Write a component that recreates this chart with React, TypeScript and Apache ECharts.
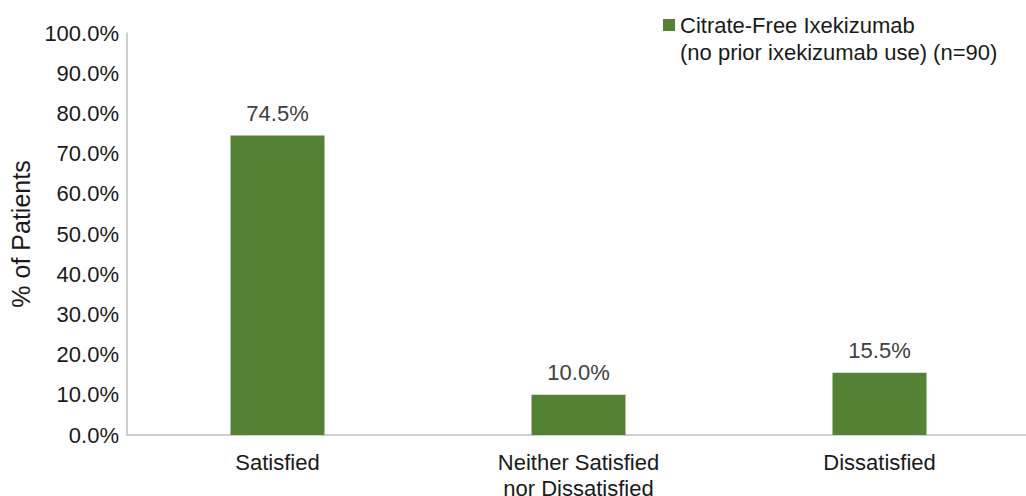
import React, { useEffect, useRef } from "react";
import * as echarts from "echarts";

// Patient satisfaction with citrate-free ixekizumab
const categories = ["Satisfied", "Neither Satisfied\nnor Dissatisfied", "Dissatisfied"];
const percentPatients = [74.5, 10.0, 15.5];
const seriesName = "Citrate-Free Ixekizumab";
const seriesSubtitle = "(no prior ixekizumab use) (n=90)";
const yTicks = { min: 0, max: 100, interval: 10 };

const FONT = "'Liberation Sans', Arial, sans-serif";
const GREEN = "#548235";

export default function App() {
  const ref = useRef<HTMLDivElement>(null);

  useEffect(() => {
    if (!ref.current) return;
    const chart = echarts.init(ref.current, null, { renderer: "svg" });
    chart.setOption({
      animation: false,
      backgroundColor: "#ffffff",
      textStyle: { fontFamily: FONT },
      grid: {
        left: 127,
        top: 33,
        width: 903,
        height: 402,
        containLabel: false,
        outerBoundsMode: "none",
      },
      legend: {
        show: true,
        left: 658,
        top: 9,
        itemWidth: 12,
        itemHeight: 12,
        itemGap: 5,
        icon: "rect",
        data: [seriesName],
        textStyle: { fontFamily: FONT, fontSize: 22, color: "#1a1a1a" },
      },
      graphic: [
        {
          type: "text",
          left: 680,
          top: 41,
          style: {
            text: seriesSubtitle,
            font: `22px ${FONT}`,
            fill: "#1a1a1a",
          },
        },
      ],
      xAxis: {
        type: "category",
        data: categories,
        axisLine: { show: true, lineStyle: { color: "#bfbfbf", width: 1.5 } },
        axisTick: { show: false },
        axisLabel: {
          fontFamily: FONT,
          fontSize: 22,
          color: "#1a1a1a",
          margin: 14,
          lineHeight: 26,
          interval: 0,
        },
      },
      yAxis: {
        type: "value",
        min: yTicks.min,
        max: yTicks.max,
        interval: yTicks.interval,
        name: "% of Patients",
        nameLocation: "middle",
        nameGap: 89,
        nameTextStyle: { fontFamily: FONT, fontSize: 25, color: "#1a1a1a" },
        axisLine: { show: true, lineStyle: { color: "#bfbfbf", width: 1.5 } },
        axisTick: { show: false },
        splitLine: { show: false },
        axisLabel: {
          fontFamily: FONT,
          fontSize: 22,
          color: "#1a1a1a",
          margin: 8,
          formatter: (v: number) => v.toFixed(1) + "%",
        },
      },
      series: [
        {
          name: seriesName,
          type: "bar",
          data: percentPatients,
          barWidth: 94,
          itemStyle: { color: GREEN },
          label: {
            show: true,
            position: "top",
            distance: 11,
            fontFamily: FONT,
            fontSize: 22,
            color: "#404040",
            formatter: (p: any) => Number(p.value).toFixed(1) + "%",
          },
        },
      ],
    });
    return () => chart.dispose();
  }, []);

  return (
    <div
      ref={ref}
      style={{ position: "fixed", left: 0, top: 0, width: 1026, height: 496, background: "#fff" }}
    />
  );
}
